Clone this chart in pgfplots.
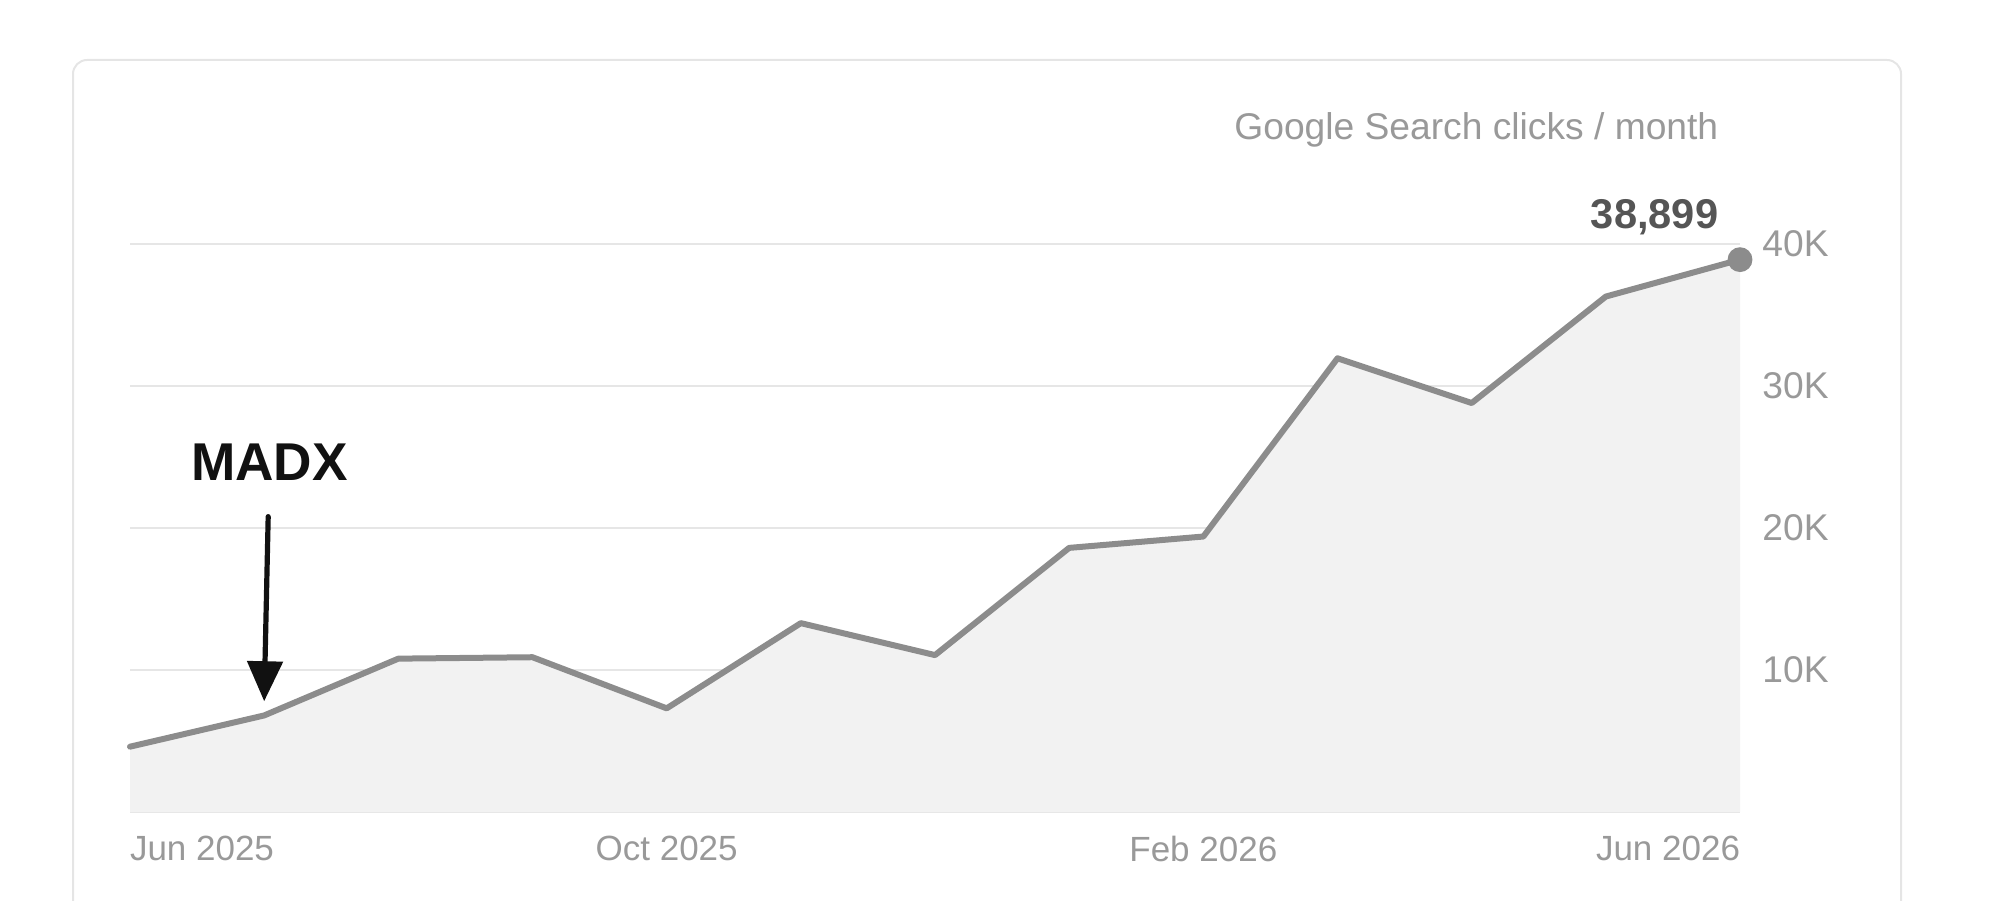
\documentclass[border=0pt]{standalone}
\usepackage{fontspec}
\setmainfont{Liberation Sans}
\usepackage{pgfplots}
\pgfplotsset{compat=1.18}
\usetikzlibrary{arrows.meta}

\definecolor{linegray}{HTML}{8C8C8C}
\definecolor{fillgray}{HTML}{F2F2F2}
\definecolor{gridgray}{HTML}{E6E6E6}
\definecolor{labelgray}{HTML}{999999}
\definecolor{valgray}{HTML}{555555}
\definecolor{cardline}{HTML}{E5E5E5}
\definecolor{ink}{HTML}{111111}

\begin{document}
\begin{tikzpicture}
% page = 2000x900 px at 0.25pt per px, axis lower left at (0,0)
\path[use as bounding box] (-32.5pt,-22pt) rectangle (467.5pt,203pt);
\draw[cardline, line width=0.5pt, rounded corners=3.5pt] (-14.25pt,-40pt) rectangle (442.75pt,188pt);

\begin{axis}[
    scale only axis,
    width=402.5pt, height=142pt,
    xmin=0, xmax=12, ymin=0, ymax=40000,
    clip=false,
    axis line style={draw=none},
    tick style={draw=none},
    major tick length=0pt,
    xtick={0,4,8,12},
    xticklabels={\rlap{Jun 2025},Oct 2025,Feb 2026,\llap{Jun 2026}},
    ytick={0,10000,20000,30000,40000},
    yticklabels={,10K,20K,30K,40K},
    yticklabel pos=right,
    scaled y ticks=false,
    ymajorgrids,
    grid style={gridgray, line width=0.5pt},
    xticklabel style={font=\fontsize{8.75}{10}\selectfont, text=labelgray,
        anchor=north, inner sep=0pt, yshift=-5.75pt},
    yticklabel style={font=\fontsize{9.3}{11}\selectfont, text=labelgray,
        anchor=west, inner sep=0pt, xshift=5.4pt},
]
% monthly clicks, Jun 2025 (0) .. Jun 2026 (12)
\addplot[draw=none, fill=fillgray] coordinates {
    (0,4600) (1,6800) (2,10800) (3,10900) (4,7300) (5,13300) (6,11050)
    (7,18600) (8,19400) (9,31950) (10,28800) (11,36300) (12,38899)
} \closedcycle;
\addplot[linegray, line width=1.5pt, line join=round, line cap=round] coordinates {
    (0,4600) (1,6800) (2,10800) (3,10900) (4,7300) (5,13300) (6,11050)
    (7,18600) (8,19400) (9,31950) (10,28800) (11,36300) (12,38899)
};
\addplot[only marks, mark=*, mark size=2.9pt, mark options={fill=linegray, draw=linegray}]
    coordinates {(12,38899)};

\draw[ink, line width=1.3pt, line cap=round, -{Triangle[width=8.75pt,length=10pt]}]
    (axis cs:1.03,20800) -- (axis cs:1,7800);
\node[ink, inner sep=0pt, font=\fontsize{13.3}{16}\bfseries\selectfont]
    at (axis cs:1.04,24600) {MADX};
\end{axis}

\node[anchor=base east, inner sep=0pt, text=labelgray, font=\fontsize{9.3}{11}\selectfont]
    at (397.25pt,168pt) {Google Search clicks / month};
\node[anchor=base east, inner sep=0pt, text=valgray, font=\fontsize{10.4}{12}\bfseries\selectfont]
    at (397.25pt,146pt) {38,899};
\end{tikzpicture}
\end{document}
